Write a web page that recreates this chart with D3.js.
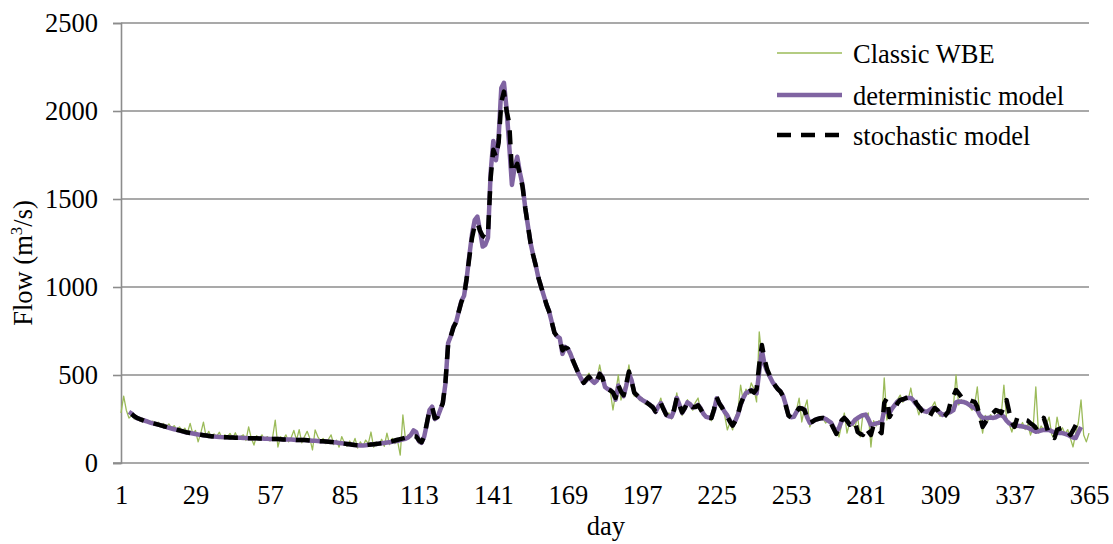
<!DOCTYPE html>
<html>
<head>
<meta charset="utf-8">
<script src="https://cdn.jsdelivr.net/npm/d3@7"></script>
<style>
  html, body { margin: 0; padding: 0; background: #ffffff; }
  svg { display: block; }
  text { font-family: "Liberation Serif", "Times New Roman", serif; fill: #000; }
</style>
</head>
<body>
<svg id="chart" width="1113" height="544"></svg>
<script>
// ---------- data ----------
const dayCount = 365;
const xTickLabels = [1, 29, 57, 85, 113, 141, 169, 197, 225, 253, 281, 309, 337, 365];
const yTicks = [0, 500, 1000, 1500, 2000, 2500];
const seriesNames = ["Classic WBE", "deterministic model", "stochastic model"];

const wbeFlow = [
284,380,300,255,270,250,262,240,255,232,
245,228,238,215,232,210,225,205,222,198,
212,190,205,180,198,172,225,165,185,120,
170,232,150,180,140,165,152,175,138,160,
150,168,140,172,135,150,160,128,205,140,
102,155,138,160,130,150,125,145,244,91,
150,135,160,120,145,185,130,190,115,150,
180,140,74,188,150,125,140,110,135,160,
105,130,90,150,115,95,125,100,140,85,
120,95,130,110,176,90,120,100,135,95,
170,105,140,110,125,45,273,130,160,148,
190,165,110,130,160,225,310,325,240,265,
305,345,460,690,720,780,800,865,925,955,
1055,1185,1305,1385,1405,1325,1235,1245,1285,1655,
1835,1725,1855,2135,2165,2015,1805,1585,1685,1745,
1655,1585,1455,1355,1255,1185,1125,1055,1005,955,
905,865,805,745,725,715,625,665,655,625,
585,550,515,485,455,490,510,460,470,480,
557,480,440,425,405,301,400,500,358,420,
460,557,440,380,395,355,370,335,350,320,
330,280,325,369,300,265,285,250,310,398,
300,270,325,360,320,300,345,369,295,270,
255,265,240,320,375,330,325,270,188,230,
188,260,300,443,350,420,390,455,420,347,
745,600,575,500,480,455,440,410,405,370,
320,265,255,270,300,369,233,310,358,205,
240,250,245,265,250,227,250,220,200,180,
148,220,284,170,230,215,205,260,148,280,
270,284,91,240,210,240,225,483,244,300,
320,340,360,386,345,380,360,426,340,330,
273,320,290,300,285,320,347,290,265,285,
270,300,280,320,500,330,360,340,350,320,
300,330,432,260,170,270,240,275,250,260,
290,275,443,250,220,176,240,220,200,230,
190,220,159,200,432,170,210,190,220,261,
160,142,261,180,200,165,190,140,91,170,
230,358,159,120,170
];

const deterministicFlow = [
null,null,null,290,280,265,255,250,245,240,
235,230,225,222,218,214,210,205,200,196,
192,188,184,180,176,172,170,168,165,162,
160,158,156,154,152,150,149,148,147,146,
146,145,145,144,144,143,142,142,141,141,
140,140,139,139,138,138,137,137,136,136,
135,134,134,133,133,132,131,131,130,130,
129,128,127,126,125,124,123,122,121,120,
118,116,114,112,110,108,106,104,102,101,
100,100,101,103,105,106,108,110,112,114,
116,118,120,123,126,130,134,138,145,160,
185,175,125,115,150,220,300,320,250,260,
300,340,450,680,720,775,800,860,920,950,
1050,1180,1300,1380,1400,1320,1230,1240,1280,1650,
1830,1720,1850,2130,2160,2010,1800,1580,1680,1740,
1650,1580,1450,1350,1250,1180,1120,1050,1000,950,
900,860,800,740,720,710,620,660,650,620,
580,545,510,480,455,470,490,470,455,470,
510,490,432,420,415,400,360,440,410,380,
440,510,470,400,385,370,358,350,340,330,
318,290,320,340,310,273,265,262,300,370,
330,285,310,345,335,315,320,330,310,280,
262,258,256,300,368,340,318,290,270,240,
215,240,275,330,370,398,405,415,405,395,
520,640,560,520,490,460,440,420,405,380,
330,270,260,262,290,312,310,305,260,228,
235,245,250,254,256,250,240,230,200,178,
200,240,256,240,218,225,245,256,265,272,
275,250,216,220,225,228,228,300,290,285,
310,330,350,358,360,368,370,370,355,335,
318,305,295,290,300,310,312,300,285,273,
278,285,290,300,345,350,348,346,340,330,
320,312,300,270,256,255,256,258,256,260,
268,273,262,240,225,216,214,212,210,207,
205,200,193,185,178,180,185,188,189,188,
180,175,172,170,170,165,160,152,145,142,
175,205,null,null,null
];

const stochasticFlow = [
null,null,null,null,278,266,256,250,244,238,
234,229,226,222,218,214,209,205,201,197,
193,189,185,181,177,173,171,168,165,162,
160,158,156,154,152,150,149,148,147,146,
146,145,145,144,144,143,142,142,141,141,
140,140,139,139,138,138,137,137,136,136,
135,134,134,133,133,132,131,131,130,130,
129,128,127,126,125,124,123,122,121,120,
118,116,114,112,110,108,106,104,102,101,
100,100,101,103,105,106,108,110,112,114,
117,120,124,128,132,136,140,144,148,150,
152,150,130,118,150,225,300,318,255,262,
300,340,460,670,720,770,800,860,915,950,
1050,1170,1280,1350,1365,1320,1290,1280,1300,1620,
1780,1740,1820,2050,2110,2000,1930,1650,1665,1700,
1640,1570,1450,1350,1250,1180,1120,1050,1000,950,
900,860,800,740,720,705,640,655,650,620,
580,545,510,480,455,475,490,470,455,470,
505,485,435,420,412,400,370,440,405,385,
450,520,465,400,385,372,358,350,340,328,
315,292,322,340,305,275,265,262,305,372,
330,288,312,345,332,318,318,328,305,278,
262,256,255,305,375,338,315,285,262,235,
212,238,278,335,372,400,405,412,400,420,
560,670,590,530,495,462,440,420,405,378,
325,270,258,262,292,312,310,300,258,228,
235,245,250,254,256,250,238,225,195,165,
200,242,256,240,218,225,235,176,165,159,
200,180,159,216,200,185,170,341,369,261,
290,312,340,358,362,368,372,370,375,341,
320,300,284,268,261,290,312,300,270,256,
270,290,347,380,415,395,375,369,365,358,
352,347,320,260,205,230,255,270,285,301,
295,284,320,358,290,230,205,256,250,245,
244,240,225,215,200,210,225,256,210,159,
150,142,188,195,199,199,180,159,185,215,
244,240,null,null,null
];

// ---------- layout ----------
const svg = d3.select("#chart");
const plotLeft = 121, plotRight = 1089, plotTop = 23, plotBottom = 463;
const fontSize = 26.5;

const x = d3.scaleLinear().domain([1, dayCount]).range([plotLeft, plotRight]);
const y = d3.scaleLinear().domain([0, 2500]).range([plotBottom, plotTop]);

svg.append("rect").attr("width", 1113).attr("height", 544).attr("fill", "#fff");

// gridlines
svg.append("g").selectAll("line").data(yTicks.filter(v => v > 0)).join("line")
  .attr("x1", plotLeft).attr("x2", plotRight)
  .attr("y1", d => y(d)).attr("y2", d => y(d))
  .attr("stroke", "#8c8c8c").attr("stroke-width", 1.6);

// y axis
const yAxis = d3.axisLeft(y).tickValues(yTicks).tickSize(8).tickPadding(15).tickFormat(d3.format("d"));
const gy = svg.append("g").attr("transform", `translate(${plotLeft},0)`).call(yAxis);
gy.select(".domain").attr("stroke", "#8c8c8c").attr("stroke-width", 1.6);
gy.selectAll(".tick line").attr("stroke", "#8c8c8c").attr("stroke-width", 1.6);
gy.selectAll(".tick text").attr("font-size", fontSize)
  .attr("font-family", "Liberation Serif, Times New Roman, serif").attr("fill", "#000");

// x axis
const xAxis = d3.axisBottom(x).tickValues(xTickLabels).tickSize(0).tickPadding(22).tickFormat(d3.format("d"));
const gx = svg.append("g").attr("transform", `translate(0,${plotBottom})`).call(xAxis);
gx.select(".domain").remove();
gx.append("line").attr("x1", plotLeft - 8).attr("x2", plotRight).attr("y1", 0).attr("y2", 0)
  .attr("stroke", "#8c8c8c").attr("stroke-width", 1.6);
gx.selectAll(".tick text").attr("font-size", fontSize)
  .attr("font-family", "Liberation Serif, Times New Roman, serif").attr("fill", "#000");

// axis titles
svg.append("text").attr("x", (plotLeft + plotRight) / 2 + 1).attr("y", 535)
  .attr("text-anchor", "middle").attr("font-size", fontSize).text("day");

const yt = svg.append("text").attr("transform", "translate(32,263) rotate(-90)")
  .attr("text-anchor", "middle").attr("font-size", fontSize);
yt.append("tspan").text("Flow (m");
yt.append("tspan").attr("font-size", 17).attr("dy", -10).text("3");
yt.append("tspan").attr("dy", 10).text("/s)");

// lines
const days = d3.range(1, dayCount + 1);
const line = d3.line()
  .defined(d => d[1] !== null)
  .x(d => x(d[0])).y(d => y(d[1]));
const toPts = arr => days.map((d, i) => [d, arr[i]]);

const styles = [
  { data: wbeFlow, color: "#9bbb59", width: 1.3, dash: null },
  { data: deterministicFlow, color: "#8064a2", width: 4.5, dash: null },
  { data: stochasticFlow, color: "#000000", width: 4.5, dash: "14,10" }
];

styles.forEach(s => {
  svg.append("path").datum(toPts(s.data))
    .attr("d", line).attr("fill", "none")
    .attr("stroke", s.color).attr("stroke-width", s.width)
    .attr("stroke-linejoin", "round")
    .attr("stroke-dasharray", s.dash);
});

// legend
const legendY = [53, 95, 135];
const lg = svg.append("g");
seriesNames.forEach((name, i) => {
  lg.append("line").attr("x1", 777).attr("x2", 842)
    .attr("y1", legendY[i]).attr("y2", legendY[i])
    .attr("stroke", styles[i].color).attr("stroke-width", styles[i].width)
    .attr("stroke-dasharray", styles[i].dash);
  lg.append("text").attr("x", 853).attr("y", legendY[i] + 10)
    .attr("font-size", fontSize).text(name);
});
</script>
</body>
</html>
